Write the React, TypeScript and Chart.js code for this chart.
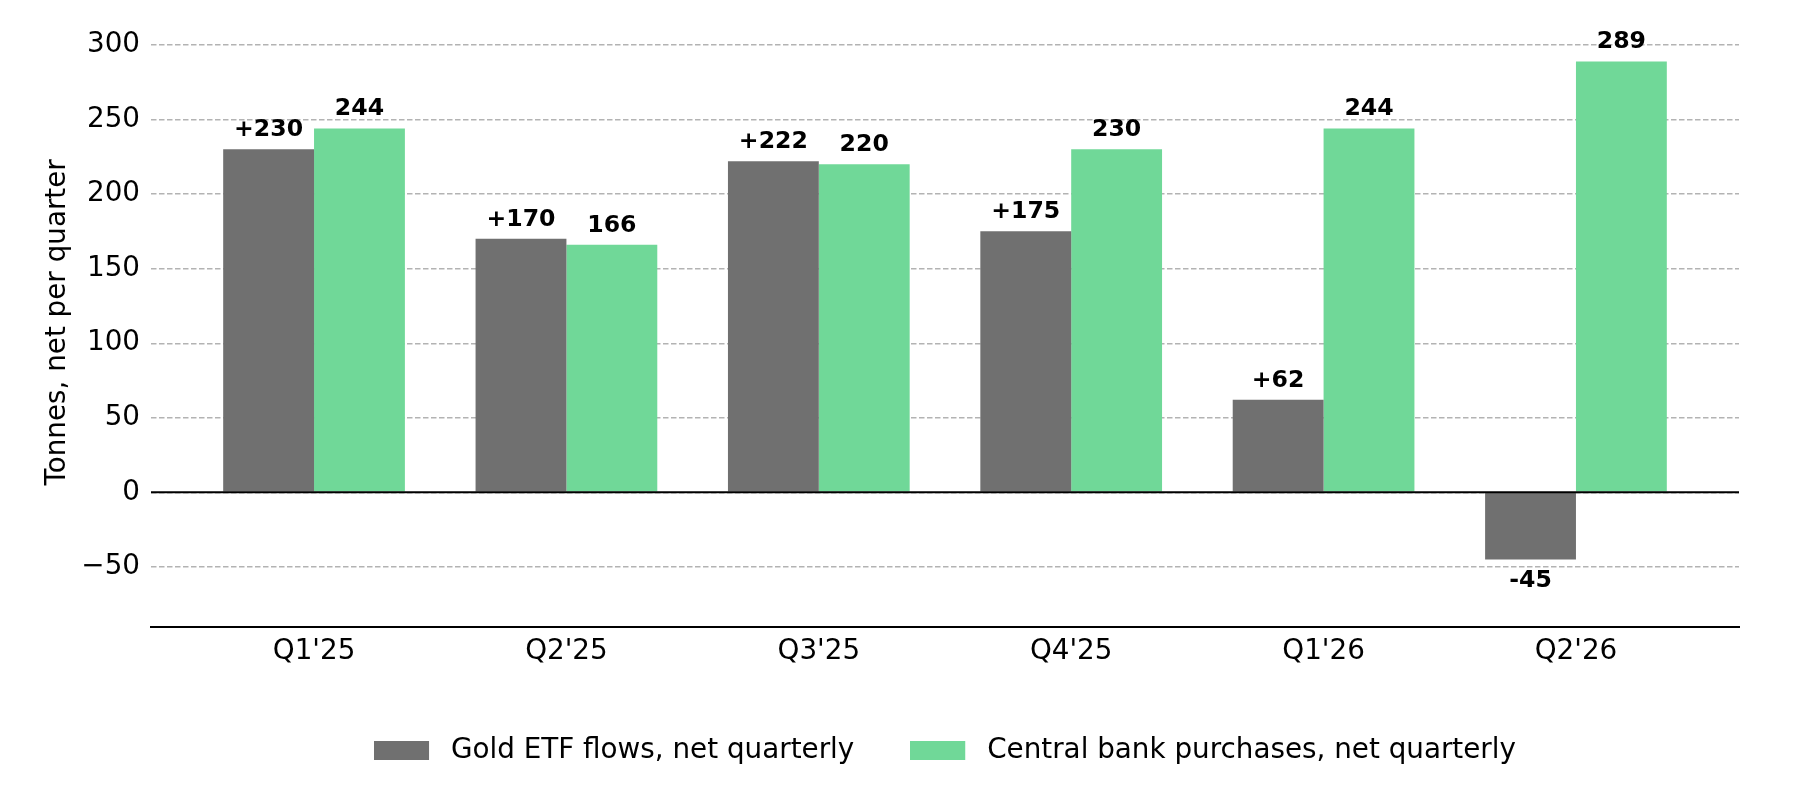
import React, { useEffect, useRef } from 'react';
import { Chart, registerables, Plugin } from 'chart.js';

Chart.register(...registerables);

// Chart data
const quarters = ["Q1'25", "Q2'25", "Q3'25", "Q4'25", "Q1'26", "Q2'26"];
const etfFlows = [230, 170, 222, 175, 62, -45];
const centralBank = [244, 166, 220, 230, 244, 289];
const yTicks = [-50, 0, 50, 100, 150, 200, 250, 300];

const FONT = "'DejaVu Sans', sans-serif";
const GRAY = '#707070';
const GREEN = '#70d898';

// Legend swatch: filled box with some transparent room on its right,
// so the gap before the label text is a little wider than Chart.js default
const makeSwatch = (color: string) => {
  const c = document.createElement('canvas');
  c.width = 63;
  c.height = 19;
  const g = c.getContext('2d');
  if (g) {
    g.fillStyle = color;
    g.fillRect(0, 0, 55, 19);
  }
  return c;
};

// Solid black line at y = 0
const zeroLine: Plugin<'bar'> = {
  id: 'zeroLine',
  afterDatasetsDraw(chart) {
    const { ctx, chartArea, scales } = chart;
    const y = scales.y.getPixelForValue(0);
    ctx.save();
    ctx.strokeStyle = '#000';
    ctx.lineWidth = 2;
    ctx.beginPath();
    ctx.moveTo(chartArea.left, y);
    ctx.lineTo(chartArea.right, y);
    ctx.stroke();
    ctx.restore();
  },
};

// Value labels above / below bars
const barLabels: Plugin<'bar'> = {
  id: 'barLabels',
  afterDatasetsDraw(chart) {
    const { ctx } = chart;
    ctx.save();
    ctx.font = `bold 23.6px ${FONT}`;
    ctx.fillStyle = '#000';
    ctx.textAlign = 'center';
    ctx.textBaseline = 'alphabetic';
    chart.data.datasets.forEach((ds, di) => {
      const meta = chart.getDatasetMeta(di);
      meta.data.forEach((bar: any, i) => {
        const v = (ds.data[i] as any).y as number;
        const text = di === 0 ? (v > 0 ? `+${v}` : `${v}`) : `${v}`;
        if (v >= 0) {
          ctx.fillText(text, bar.x, bar.y - 13);
        } else {
          ctx.fillText(text, bar.x, bar.y + 28);
        }
      });
    });
    ctx.restore();
  },
};

const App: React.FC = () => {
  const canvasRef = useRef<HTMLCanvasElement>(null);

  useEffect(() => {
    document.body.style.margin = '0';
    if (!canvasRef.current) return;

    const swatches = [makeSwatch(GRAY), makeSwatch(GREEN)];

    const chart = new Chart(canvasRef.current, {
      type: 'bar',
      data: {
        datasets: [
          {
            label: 'Gold ETF flows, net quarterly',
            data: etfFlows.map((v, i) => ({ x: i, y: v })),
            backgroundColor: GRAY,
            borderWidth: 0,
            categoryPercentage: 0.72,
            barPercentage: 1,
          },
          {
            label: 'Central bank purchases, net quarterly',
            data: centralBank.map((v, i) => ({ x: i, y: v })),
            backgroundColor: GREEN,
            borderWidth: 0,
            categoryPercentage: 0.72,
            barPercentage: 1,
          },
        ],
      },
      options: {
        responsive: true,
        maintainAspectRatio: false,
        animation: false,
        layout: { padding: { top: 18.3, right: 73, left: 0, bottom: 25.6 } },
        scales: {
          x: {
            type: 'linear',
            offset: false,
            min: -0.646,
            max: 5.646,
            afterBuildTicks: (scale) => {
              scale.ticks = quarters.map((_, i) => ({ value: i }));
            },
            afterFit: (scale) => {
              scale.height = 54.1;
              scale.paddingLeft = 0;
              scale.paddingRight = 0;
            },
            grid: { display: false, drawTicks: false },
            border: { display: true, color: '#000', width: 2 },
            ticks: {
              autoSkip: false,
              maxRotation: 0,
              padding: 8.5,
              color: '#000',
              font: { family: FONT, size: 27.8 },
              callback: (value) => quarters[value as number] ?? '',
            },
          },
          y: {
            min: -90,
            max: 317.9,
            afterBuildTicks: (scale) => {
              scale.ticks = yTicks.map((v) => ({ value: v }));
            },
            afterFit: (scale) => {
              scale.width = 151;
              scale.paddingTop = 0;
              scale.paddingBottom = 0;
            },
            grid: { color: '#b3b3b3', lineWidth: 1.4, drawTicks: false },
            border: { display: false, dash: [5.5, 2.5] },
            ticks: {
              padding: 11,
              color: '#000',
              font: { family: FONT, size: 27.8 },
              callback: (value) => {
                const n = value as number;
                return n < 0 ? `\u2212${Math.abs(n)}` : `${n}`;
              },
            },
            title: {
              display: true,
              text: 'Tonnes, net per quarter',
              color: '#000',
              font: { family: FONT, size: 27.8 },
              padding: { top: 41, bottom: 0 },
            },
          },
        },
        plugins: {
          legend: {
            position: 'bottom',
            fullSize: false,
            labels: {
              usePointStyle: true,
              pointStyleWidth: 63,
              boxHeight: 19,
              padding: 56,
              color: '#000',
              font: { family: FONT, size: 27.8 },
              generateLabels: (c) =>
                Chart.defaults.plugins.legend.labels
                  .generateLabels(c)
                  .map((item, i) => ({ ...item, pointStyle: swatches[i] as any })),
            },
          },
          tooltip: { enabled: false },
        },
      },
      plugins: [zeroLine, barLabels],
    });

    return () => {
      chart.destroy();
    };
  }, []);

  return (
    <div style={{ width: 1812, height: 800, position: 'relative', background: '#fff' }}>
      <canvas ref={canvasRef} />
    </div>
  );
};

export default App;
